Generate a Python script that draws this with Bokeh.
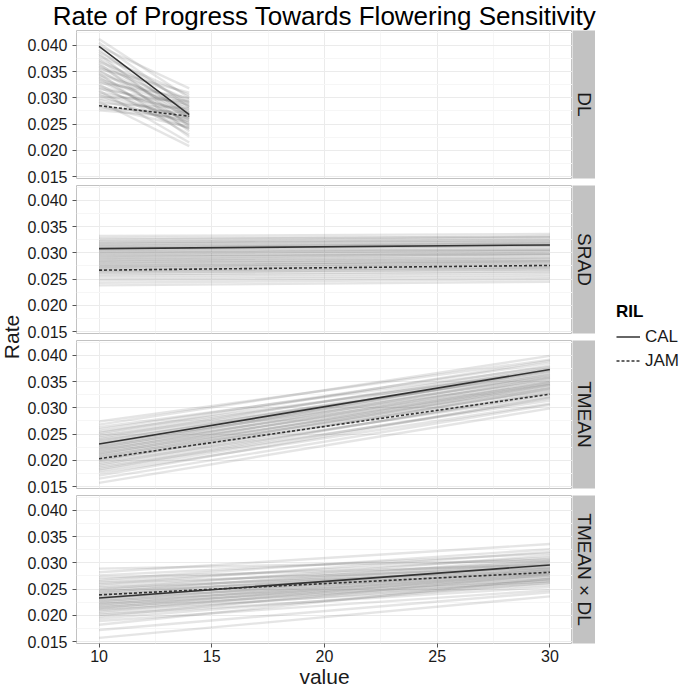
import math
from bokeh.plotting import figure
from bokeh.layouts import row, column
from bokeh.models import Range1d, FixedTicker, Legend, LegendItem
from bokeh.embed import file_html
from bokeh.resources import INLINE
from bokeh.core.properties import value

FONT = "Liberation Sans"

# ---------------- data ----------------
title_text = "Rate of Progress Towards Flowering Sensitivity"
facets = ["DL", "SRAD", "TMEAN", "TMEAN × DL"]
x_from = [10, 10, 10, 10]
x_to = [14, 30, 30, 30]

cal_start = [0.0398, 0.0308, 0.0231, 0.0233]
cal_end = [0.0268, 0.0315, 0.0373, 0.0296]
jam_start = [0.0285, 0.0267, 0.0203, 0.0239]
jam_end = [0.0265, 0.0276, 0.0326, 0.0282]

dl_ril_start = [0.0412, 0.0405, 0.0398, 0.0392, 0.0388, 0.0384, 0.0380, 0.0376, 0.0372, 0.0369,
                0.0366, 0.0362, 0.0359, 0.0356, 0.0353, 0.0350, 0.0347, 0.0344, 0.0341, 0.0338,
                0.0335, 0.0332, 0.0329, 0.0326, 0.0323, 0.0320, 0.0317, 0.0314, 0.0311, 0.0308,
                0.0305, 0.0302, 0.0299, 0.0296, 0.0293, 0.0290, 0.0287, 0.0284, 0.0280, 0.0276]
dl_ril_end = [0.0300, 0.0282, 0.0318, 0.0262, 0.0290, 0.0245, 0.0305, 0.0272, 0.0258, 0.0296,
              0.0236, 0.0285, 0.0268, 0.0310, 0.0250, 0.0278, 0.0226, 0.0292, 0.0264, 0.0240,
              0.0283, 0.0255, 0.0300, 0.0230, 0.0270, 0.0248, 0.0288, 0.0215, 0.0276, 0.0260,
              0.0242, 0.0294, 0.0266, 0.0252, 0.0208, 0.0280, 0.0256, 0.0244, 0.0272, 0.0262]

srad_ril_start = [0.0332, 0.0328, 0.0325, 0.0322, 0.0320, 0.0318, 0.0316, 0.0314, 0.0312, 0.0310,
                  0.0308, 0.0306, 0.0304, 0.0302, 0.0300, 0.0298, 0.0296, 0.0294, 0.0292, 0.0290,
                  0.0288, 0.0286, 0.0284, 0.0282, 0.0280, 0.0278, 0.0276, 0.0274, 0.0272, 0.0270,
                  0.0268, 0.0266, 0.0264, 0.0262, 0.0259, 0.0256, 0.0252, 0.0248, 0.0243, 0.0238]
srad_ril_end = [0.0336, 0.0330, 0.0332, 0.0324, 0.0329, 0.0321, 0.0325, 0.0316, 0.0320, 0.0318,
                0.0313, 0.0315, 0.0306, 0.0311, 0.0304, 0.0307, 0.0298, 0.0303, 0.0297, 0.0299,
                0.0291, 0.0295, 0.0287, 0.0290, 0.0285, 0.0284, 0.0280, 0.0283, 0.0276, 0.0279,
                0.0272, 0.0274, 0.0268, 0.0270, 0.0265, 0.0262, 0.0258, 0.0254, 0.0250, 0.0245]

tmean_ril_start = [0.0274, 0.0268, 0.0263, 0.0259, 0.0255, 0.0252, 0.0249, 0.0246, 0.0243, 0.0240,
                   0.0238, 0.0235, 0.0233, 0.0230, 0.0228, 0.0226, 0.0224, 0.0222, 0.0220, 0.0218,
                   0.0216, 0.0214, 0.0212, 0.0210, 0.0208, 0.0206, 0.0204, 0.0202, 0.0200, 0.0198,
                   0.0195, 0.0192, 0.0189, 0.0186, 0.0183, 0.0180, 0.0176, 0.0171, 0.0165, 0.0157]
tmean_ril_end = [0.0392, 0.0399, 0.0378, 0.0386, 0.0370, 0.0390, 0.0374, 0.0362, 0.0381, 0.0366,
                 0.0358, 0.0376, 0.0352, 0.0369, 0.0360, 0.0347, 0.0372, 0.0355, 0.0343, 0.0364,
                 0.0350, 0.0338, 0.0357, 0.0345, 0.0333, 0.0349, 0.0340, 0.0328, 0.0344, 0.0335,
                 0.0322, 0.0337, 0.0326, 0.0314, 0.0330, 0.0318, 0.0308, 0.0320, 0.0306, 0.0299]

txd_ril_start = [0.0289, 0.0282, 0.0276, 0.0272, 0.0268, 0.0265, 0.0262, 0.0259, 0.0256, 0.0253,
                 0.0250, 0.0248, 0.0246, 0.0244, 0.0242, 0.0240, 0.0238, 0.0236, 0.0234, 0.0232,
                 0.0230, 0.0228, 0.0226, 0.0224, 0.0222, 0.0220, 0.0218, 0.0216, 0.0214, 0.0212,
                 0.0210, 0.0207, 0.0204, 0.0201, 0.0198, 0.0194, 0.0189, 0.0182, 0.0172, 0.0157]
txd_ril_end = [0.0305, 0.0336, 0.0318, 0.0296, 0.0326, 0.0310, 0.0290, 0.0321, 0.0302, 0.0285,
               0.0314, 0.0298, 0.0280, 0.0308, 0.0292, 0.0276, 0.0304, 0.0288, 0.0272, 0.0300,
               0.0284, 0.0268, 0.0295, 0.0279, 0.0265, 0.0290, 0.0275, 0.0262, 0.0286, 0.0270,
               0.0258, 0.0282, 0.0266, 0.0254, 0.0278, 0.0262, 0.0248, 0.0270, 0.0244, 0.0236]

ril_starts = [dl_ril_start, srad_ril_start, tmean_ril_start, txd_ril_start]
ril_ends = [dl_ril_end, srad_ril_end, tmean_ril_end, txd_ril_end]

x_ticks = [10, 15, 20, 25, 30]
x_minor = [7.5, 12.5, 17.5, 22.5, 27.5, 32.5]
y_ticks = [0.015, 0.020, 0.025, 0.030, 0.035, 0.040]
y_tick_labels = ["0.015", "0.020", "0.025", "0.030", "0.035", "0.040"]
y_minor = [0.0125, 0.0175, 0.0225, 0.0275, 0.0325, 0.0375, 0.0425]
legend_labels = ["CAL", "JAM"]

# ---------------- layout / style ----------------
TOTAL_W = 680
FRAME_W, FRAME_H, GAP = 496, 148, 7
LEFT_B, BOTTOM_B = 54, 48
RATE_W, STRIP_W, TITLE_H = 22, 23, 30
LEG_W = TOTAL_W - RATE_W - LEFT_B - FRAME_W - STRIP_W
STRIP_FILL = "#C2C2C2"
MEAN_COLOR = "#333333"
TEXT_COLOR = "#1A1A1A"
RIL_COLOR = "#606060"


def bare(fig):
    fig.grid.visible = False
    fig.outline_line_color = None
    return fig


panel_rows = []
for i, name in enumerate(facets):
    last = i == len(facets) - 1
    bottom = BOTTOM_B if last else GAP
    p = figure(frame_width=FRAME_W, frame_height=FRAME_H,
               x_range=Range1d(9, 31), y_range=Range1d(0.01462, 0.04284),
               min_border_left=LEFT_B, min_border_right=0, min_border_top=0,
               min_border_bottom=bottom,
               x_axis_location="below" if last else None,
               toolbar_location=None, tools="", output_backend="svg")
    p.outline_line_color = "#C2C2C2"
    p.background_fill_color = "white"

    p.xgrid.ticker = FixedTicker(ticks=x_ticks, minor_ticks=x_minor)
    p.ygrid.ticker = FixedTicker(ticks=y_ticks, minor_ticks=y_minor)
    for g in (p.xgrid, p.ygrid):
        g.grid_line_color = "#EBEBEB"
        g.minor_grid_line_color = "#F6F6F6"

    yax = p.yaxis[0]
    yax.ticker = FixedTicker(ticks=y_ticks, minor_ticks=y_minor)
    yax.major_label_overrides = dict(zip(y_ticks, y_tick_labels))
    yax.axis_line_color = None
    yax.major_tick_in = 0
    yax.major_tick_out = 4
    yax.minor_tick_in = 0
    yax.minor_tick_out = 0
    yax.major_tick_line_color = "#555555"
    yax.major_label_standoff = 5
    yax.major_label_text_font = FONT
    yax.major_label_text_font_size = "16px"
    yax.major_label_text_color = TEXT_COLOR

    if last:
        xax = p.xaxis[0]
        xax.ticker = FixedTicker(ticks=x_ticks, minor_ticks=x_minor)
        xax.axis_line_color = None
        xax.major_tick_in = 0
        xax.major_tick_out = 4
        xax.minor_tick_in = 0
        xax.minor_tick_out = 0
        xax.major_tick_line_color = "#555555"
        xax.major_label_standoff = 2
        xax.major_label_text_font = FONT
        xax.major_label_text_font_size = "16px"
        xax.major_label_text_color = TEXT_COLOR
        xax.axis_label = "value"
        xax.axis_label_standoff = 0
        xax.axis_label_text_font = FONT
        xax.axis_label_text_font_size = "21px"
        xax.axis_label_text_font_style = "normal"
        xax.axis_label_text_color = TEXT_COLOR

    xs = [[x_from[i], x_to[i]] for _ in ril_starts[i]]
    ys = [[s, e] for s, e in zip(ril_starts[i], ril_ends[i])]
    p.multi_line(xs=xs, ys=ys, line_color=RIL_COLOR, line_alpha=0.16, line_width=2.4)
    p.line(x=[x_from[i], x_to[i]], y=[cal_start[i], cal_end[i]],
           line_color=MEAN_COLOR, line_width=1.6)
    p.line(x=[x_from[i], x_to[i]], y=[jam_start[i], jam_end[i]],
           line_color=MEAN_COLOR, line_width=1.6, line_dash="3 2")

    s = figure(frame_width=STRIP_W, frame_height=FRAME_H,
               x_range=Range1d(0, 1), y_range=Range1d(0, 1),
               min_border_left=0, min_border_right=0, min_border_top=0,
               min_border_bottom=bottom, x_axis_location=None, y_axis_location=None,
               toolbar_location=None, tools="", output_backend="svg")
    bare(s)
    s.background_fill_color = STRIP_FILL
    s.text(x=[0.5], y=[0.5], text=[name], angle=-math.pi / 2,
           text_align="center", text_baseline="middle",
           text_font=value(FONT), text_font_size="19px", text_color=TEXT_COLOR)
    panel_rows.append(row(p, s))

panels = column(*panel_rows)
total_h = FRAME_H * len(facets) + GAP * (len(facets) - 1) + BOTTOM_B

# y-axis title
r = bare(figure(width=RATE_W, height=total_h, x_range=Range1d(0, 1), y_range=Range1d(0, 1),
                min_border_left=0, min_border_right=0, min_border_top=0,
                min_border_bottom=BOTTOM_B, x_axis_location=None, y_axis_location=None,
                toolbar_location=None, tools="", output_backend="svg"))
r.text(x=[0.5], y=[0.5], text=["Rate"], angle=math.pi / 2,
       text_align="center", text_baseline="middle",
       text_font=value(FONT), text_font_size="21px", text_color=TEXT_COLOR)

# legend
lf = bare(figure(width=LEG_W, height=total_h, x_range=Range1d(0, 1), y_range=Range1d(0, 1),
                 min_border_left=0, min_border_right=0, min_border_top=0,
                 min_border_bottom=BOTTOM_B, x_axis_location=None, y_axis_location=None,
                 toolbar_location=None, tools="", output_backend="svg"))
# legend proxies carry the facet data; it lies outside this legend-only panel's range
r_cal = lf.line(x=[x_from[0], x_to[0]], y=[cal_start[0], cal_end[0]],
                line_color=MEAN_COLOR, line_width=1.6)
r_jam = lf.line(x=[x_from[0], x_to[0]], y=[jam_start[0], jam_end[0]],
                line_color=MEAN_COLOR, line_width=1.6, line_dash="3 2")
leg = Legend(items=[LegendItem(label=legend_labels[0], renderers=[r_cal]),
                    LegendItem(label=legend_labels[1], renderers=[r_jam])],
             location="left", title="RIL")
leg.title_text_font = FONT
leg.title_text_font_size = "17px"
leg.title_text_font_style = "bold"
leg.title_text_color = "black"
leg.title_standoff = 3
leg.label_text_font = FONT
leg.label_text_font_size = "17px"
leg.label_text_color = TEXT_COLOR
leg.glyph_width = 24
leg.glyph_height = 24
leg.spacing = 0
leg.padding = 0
leg.margin = 21
leg.label_standoff = 5
leg.border_line_color = None
leg.background_fill_alpha = 0
lf.add_layout(leg)

# title
t = bare(figure(width=TOTAL_W, height=TITLE_H,
                x_range=Range1d(0, 1), y_range=Range1d(0, 1),
                min_border_left=0, min_border_right=0, min_border_top=0, min_border_bottom=0,
                x_axis_location=None, y_axis_location=None,
                toolbar_location=None, tools="", output_backend="svg"))
frame_center_offset = (RATE_W + LEFT_B + FRAME_W / 2) - TOTAL_W / 2
t.text(x=[0.5], y=[0.5], text=[title_text], x_offset=frame_center_offset,
       text_align="center", text_baseline="middle",
       text_font=value(FONT), text_font_size="26px", text_color="black")

layout = column(t, row(r, panels, lf))
open("out.html", "w").write(file_html(layout, INLINE))
